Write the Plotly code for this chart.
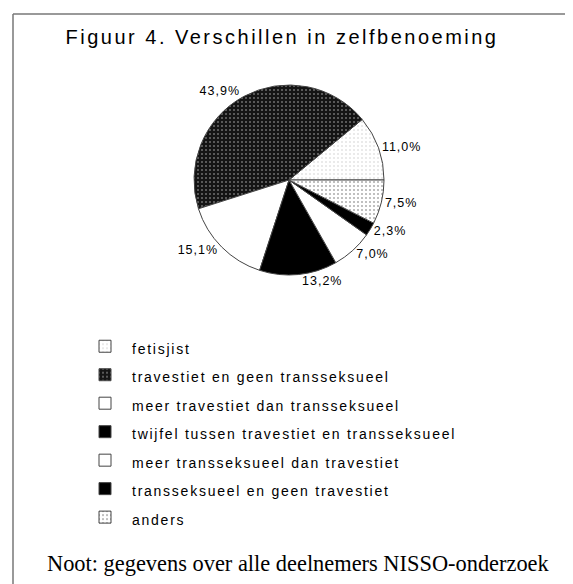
import plotly.graph_objects as go

W, H = 573, 584

categories = [
    "fetisjist",
    "travestiet en geen transseksueel",
    "meer travestiet dan transseksueel",
    "twijfel tussen travestiet en transseksueel",
    "meer transseksueel dan travestiet",
    "transseksueel en geen travestiet",
    "anders",
]
percentages = [11.0, 43.9, 15.1, 13.2, 7.0, 2.3, 7.5]

fill_colors = ["#ffffff", "#141414", "#ffffff", "#000000", "#ffffff", "#000000", "#ffffff"]
pattern_shapes = [".", ".", "", "", "", "", "."]
pattern_fg = ["#e4e4e4", "#6e6e6e", "#000000", "#000000", "#000000", "#000000", "#ababab"]

title_text = "Figuur 4. Verschillen in zelfbenoeming"
note_text = "Noot: gegevens over alle deelnemers NISSO-onderzoek"

legend_labels = ['<span style="font-size:14px;letter-spacing:1.75px">%s</span>' % c for c in categories]

cx, cy, r = 281, 172, 95
start_angle = 90 - 360 * percentages[0] / sum(percentages)  # first slice begins at 3 o'clock

fig = go.Figure(
    go.Pie(
        labels=legend_labels,
        values=percentages,
        sort=False,
        direction="counterclockwise",
        rotation=start_angle,
        textposition="outside",
        texttemplate='<span style="letter-spacing:1px">%{value:.1f}%</span>',
        textfont=dict(family="Liberation Sans, Arial, sans-serif", size=12.5, color="#000"),
        marker=dict(
            colors=fill_colors,
            line=dict(color="#444444", width=1),
            pattern=dict(shape=pattern_shapes, fgcolor=pattern_fg, bgcolor=fill_colors,
                         size=4, solidity=0.2),
        ),
        domain=dict(x=[(cx - r) / W, (cx + r) / W], y=[1 - (cy + r) / H, 1 - (cy - r) / H]),
        hoverinfo="label+percent",
    )
)

fig.update_layout(
    width=W,
    height=H,
    margin=dict(l=0, r=0, t=0, b=0),
    paper_bgcolor="#ffffff",
    plot_bgcolor="#ffffff",
    separators=",.",
    showlegend=True,
    legend=dict(
        x=70 / W,
        xanchor="left",
        y=1 - 319 / H,
        yanchor="top",
        itemwidth=44,
        font=dict(family="Liberation Sans, Arial, sans-serif", size=19.6, color="#000"),
        bgcolor="rgba(0,0,0,0)",
        borderwidth=0,
    ),
    title=dict(
        text='<span style="letter-spacing:2.5px">%s</span>' % title_text,
        x=274 / W,
        xanchor="center",
        y=1 - 29 / H,
        yanchor="middle",
        font=dict(family="Liberation Sans, Arial, sans-serif", size=20, color="#000"),
    ),
    annotations=[
        dict(
            text=note_text,
            x=290 / W,
            y=1 - 555 / H,
            xref="paper",
            yref="paper",
            xanchor="center",
            yanchor="middle",
            showarrow=False,
            font=dict(family="Liberation Serif, Times New Roman, serif", size=22.4, color="#000"),
        )
    ],
    shapes=[
        dict(type="line", xref="paper", yref="paper", x0=5 / W, x1=1, y0=1 - 6 / H, y1=1 - 6 / H,
             line=dict(color="#777", width=1.5)),
        dict(type="line", xref="paper", yref="paper", x0=5 / W, x1=5 / W, y0=1 - 6 / H, y1=0,
             line=dict(color="#777", width=1.5)),
    ],
)

fig.write_html("out.html")
